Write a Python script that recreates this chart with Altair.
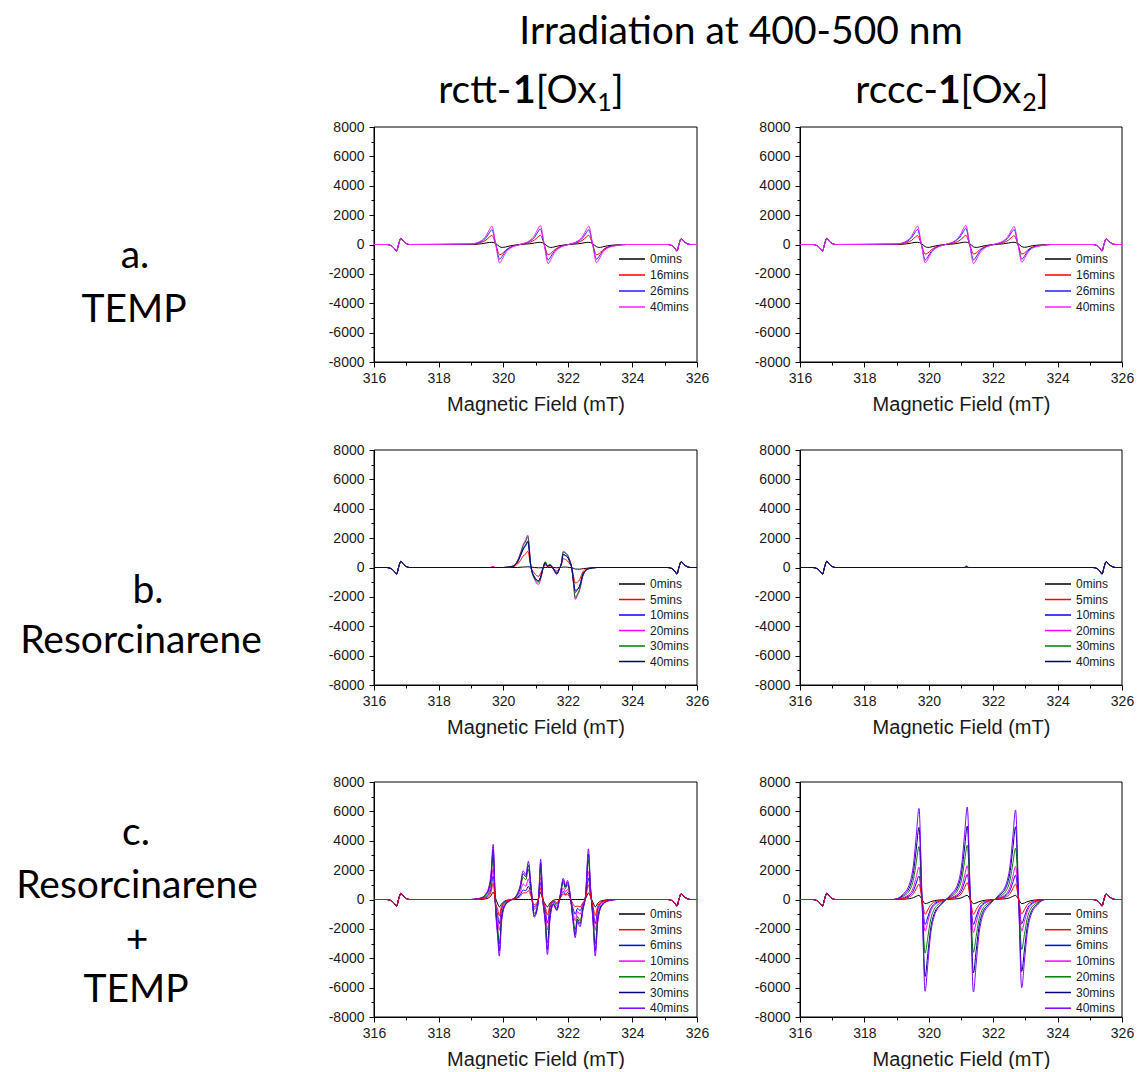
import altair as alt
import pandas as pd

# ---------------------------------------------------------------- data
# Mn2+ reference lines at both ends of every spectrum (same in all runs)
MN_LOW_X = [316.40, 316.55, 316.64, 316.70, 316.76, 316.83, 316.92, 317.10]
MN_LOW_Y = [0, -100, -300, -450, 0, 420, 200, 0]
MN_HIGH_X = [325.10, 325.25, 325.33, 325.38, 325.44, 325.51, 325.60, 325.80]
MN_HIGH_Y = [0, -100, -300, -450, 0, 400, 200, 0]

# a. TEMP
TEMP_TIMES = ["0mins", "16mins", "26mins", "40mins"]
TEMP_COLORS = ["#000000", "#ff0000", "#2020ff", "#ff20ff"]
TEMP_FIELD = [319.00, 319.32, 319.47, 319.57, 319.65, 319.77, 319.89, 319.97, 320.07, 320.22,
              320.52, 320.82, 320.97, 321.07, 321.15, 321.27, 321.39, 321.47, 321.57, 321.72,
              322.02, 322.32, 322.47, 322.57, 322.65, 322.77, 322.89, 322.97, 323.07, 323.22,
              323.55, 323.80]
TEMP_OX1 = {
    "0mins": [0, 50, 100, 140, 150, 60, -150, -200, -170, -90, 0, 50, 100, 140, 150, 60, -150, -200, -170, -90,
              0, 50, 100, 140, 150, 60, -150, -200, -170, -90, -20, 0],
    "16mins": [20, 140, 310, 500, 620, 0, -700, -620, -400, -180, 0, 140, 310, 500, 620, 0, -700, -620, -400, -180,
               0, 140, 310, 500, 620, 0, -700, -620, -400, -180, -40, 0],
    "26mins": [30, 210, 470, 800, 1000, 0, -1000, -800, -470, -210, 0, 220, 490, 840, 1050, 0, -1050, -840, -490, -220,
               0, 210, 470, 800, 1000, 0, -1000, -800, -470, -210, -50, 0],
    "40mins": [40, 260, 590, 1000, 1250, 0, -1250, -1000, -590, -260, 0, 270, 610, 1040, 1300, 0, -1300, -1040, -610, -270,
               0, 260, 590, 1000, 1250, 0, -1250, -1000, -590, -260, -60, 0],
}
TEMP_OX2 = {
    "0mins": [0, 50, 100, 140, 150, 60, -150, -200, -170, -90, 0, 50, 110, 150, 160, 60, -160, -200, -170, -90,
              0, 50, 100, 140, 150, 60, -150, -190, -160, -80, -20, 0],
    "16mins": [20, 130, 290, 480, 600, 0, -650, -580, -380, -170, 0, 130, 300, 490, 620, 0, -650, -580, -380, -170,
               0, 130, 290, 480, 600, 0, -650, -580, -380, -170, -40, 0],
    "26mins": [30, 210, 480, 820, 1020, 0, -1050, -840, -490, -220, 0, 230, 510, 870, 1100, 0, -1050, -840, -490, -220,
               0, 210, 480, 820, 1020, 0, -1000, -800, -470, -210, -50, 0],
    "40mins": [40, 260, 590, 1000, 1250, 0, -1250, -1000, -590, -260, 0, 270, 620, 1050, 1300, 0, -1300, -1050, -620, -270,
               0, 260, 580, 990, 1230, 0, -1200, -960, -570, -250, -60, 0],
}

# b. Resorcinarene
RES_TIMES = ["0mins", "5mins", "10mins", "20mins", "30mins", "40mins"]
RES_COLORS = ["#000000", "#ff0000", "#0000ff", "#ff00ff", "#008000", "#000080"]
RES_FIELD_OX1 = [319.60, 319.68, 319.76, 320.00, 320.30, 320.45, 320.55, 320.62, 320.70, 320.76,
                 320.86, 320.97, 321.09, 321.17, 321.24, 321.30, 321.37, 321.45, 321.55, 321.66,
                 321.74, 321.80, 321.86, 321.93, 321.99, 322.06, 322.12, 322.18, 322.23, 322.30,
                 322.36, 322.48, 322.64, 322.90]
RES_OX1 = {
    "0mins": [0, 0, 0, 0, 0, 0, 20, 30, 40, 50, 30, 0, -20, -20, 0, 0, 0, 0, 0, -20,
              0, 0, 30, 30, 20, 0, -20, -60, -100, -110, -110, -80, -40, 0],
    "5mins": [0, 60, 0, 0, 50, 250, 550, 780, 950, 1100, 30, -400, -600, -350, 0, 200, 50, 100, -50, -240,
              -50, 150, 600, 550, 450, 250, 0, -600, -1050, -1000, -850, -250, -50, 0],
    "10mins": [0, 0, 0, 0, 80, 400, 880, 1250, 1500, 1750, 40, -650, -920, -560, 0, 300, 80, 160, -80, -380,
               -80, 240, 880, 800, 700, 400, 0, -960, -1700, -1500, -1280, -400, -80, 0],
    "20mins": [0, 60, 0, 0, 100, 500, 1100, 1560, 1900, 2200, 50, -800, -1150, -700, 0, 370, 100, 200, -100, -480,
               -100, 300, 1100, 1000, 880, 500, 0, -1200, -2170, -1900, -1600, -500, -100, 0],
    "30mins": [0, 0, 0, 0, 90, 470, 1040, 1480, 1800, 2100, 50, -760, -1000, -650, 0, 400, 120, 200, -80, -450,
               -90, 280, 1050, 960, 850, 480, 0, -1150, -2050, -1800, -1500, -470, -90, 0],
    "40mins": [0, 0, 0, 0, 80, 410, 900, 1280, 1560, 1800, 40, -660, -900, -570, 0, 320, 90, 170, -90, -400,
               -80, 250, 900, 820, 720, 410, 0, -980, -1550, -1500, -1300, -420, -80, 0],
}
RES_FIELD_OX2 = [321.10, 321.17, 321.24]
RES_OX2 = {
    "0mins": [0, 20, 0],
    "5mins": [0, 20, 0],
    "10mins": [0, 30, 0],
    "20mins": [0, 30, 0],
    "30mins": [0, 110, 0],
    "40mins": [0, 40, 0],
}

# c. Resorcinarene + TEMP
MIX_TIMES = ["0mins", "3mins", "6mins", "10mins", "20mins", "30mins", "40mins"]
MIX_COLORS = ["#000000", "#ff0000", "#0000ff", "#ff00ff", "#008000", "#000080", "#8000ff"]
MIX_ORDER = ["0mins", "6mins", "10mins", "20mins", "30mins", "40mins", "3mins"]
MIX_FIELD_OX1 = [319.00, 319.30, 319.45, 319.55, 319.62, 319.69, 319.76, 319.83, 319.88, 319.95,
                 320.05, 320.20, 320.40, 320.52, 320.62, 320.70, 320.78, 320.86, 320.96, 321.05,
                 321.10, 321.16, 321.22, 321.30, 321.37, 321.45, 321.55, 321.66, 321.76, 321.86,
                 321.93, 321.99, 322.08, 322.16, 322.23, 322.30, 322.38, 322.47, 322.55, 322.64,
                 322.70, 322.78, 322.85, 322.93, 323.05, 323.25, 323.50]
MIX_OX1 = {
    "0mins": [0, 10, 40, 120, 250, 500, 100, -300, -500, -300, -100, -20, 0, 0, 0, 0, 0, 0, 0, 0,
              100, 500, 50, -300, -500, -250, -60, 0, 0, 0, 0, 0, 0, 0, 0, 0, 0, 0, 60, 450,
              200, -200, -500, -250, -80, -20, 0],
    "3mins": [0, 30, 100, 230, 480, 1100, -150, -700, -1100, -420, -130, -30, 60, 200, 450, 450, 600, 250, -350, -200,
              80, 800, 60, -460, -1050, -360, -100, -200, 60, 380, 300, 350, 60, -300, -480, -450, -500, -200, 90, 1000,
              300, -460, -1100, -420, -130, -30, 0],
    "6mins": [0, 40, 150, 340, 700, 1600, -200, -1100, -1650, -640, -190, -40, 90, 300, 650, 600, 900, 350, -500, -300,
              120, 1150, 90, -680, -1600, -550, -150, -300, 100, 550, 350, 480, 80, -600, -1000, -600, -750, -300, 120, 1450,
              420, -640, -1650, -640, -190, -40, 0],
    "10mins": [0, 55, 190, 440, 930, 2100, -250, -1400, -2100, -820, -250, -55, 130, 480, 1050, 900, 1400, 550, -660, -390,
               150, 1500, 110, -880, -2050, -700, -190, -410, 140, 800, 520, 700, 110, -820, -1450, -820, -1000, -380, 160, 1900,
               550, -820, -2100, -820, -250, -55, 0],
    "20mins": [0, 80, 270, 620, 1300, 2950, -350, -2000, -3000, -1170, -350, -80, 190, 700, 1500, 1350, 2050, 780, -950, -550,
               220, 2150, 150, -1250, -2950, -1000, -270, -600, 190, 1150, 750, 1000, 150, -1150, -2050, -1150, -1450, -550, 230, 2700,
               800, -1150, -3000, -1150, -350, -80, 0],
    "30mins": [0, 90, 320, 720, 1500, 3400, -400, -2300, -3500, -1350, -400, -90, 220, 800, 1750, 1550, 2350, 900, -1100, -650,
               250, 2500, 180, -1450, -3400, -1200, -320, -700, 220, 1300, 850, 1150, 180, -1350, -2400, -1350, -1650, -650, 270, 3100,
               900, -1350, -3500, -1350, -400, -90, 0],
    "40mins": [0, 100, 350, 800, 1700, 3750, -500, -2600, -3850, -1500, -450, -100, 250, 900, 1950, 1700, 2600, 1000, -1200, -700,
               300, 2750, 200, -1600, -3750, -1300, -350, -750, 250, 1450, 950, 1300, 200, -1500, -2600, -1500, -1850, -700, 300, 3450,
               1000, -1500, -3850, -1500, -450, -100, 0],
}
MIX_FIELD_OX2 = [318.90,
                 319.19, 319.41, 319.53, 319.61, 319.695, 319.79, 319.885, 319.97, 320.05, 320.17, 320.39,
                 320.54,
                 320.69, 320.91, 321.03, 321.11, 321.195, 321.29, 321.385, 321.47, 321.55, 321.67, 321.89,
                 322.04,
                 322.19, 322.41, 322.53, 322.61, 322.695, 322.79, 322.885, 322.97, 323.05, 323.17, 323.39,
                 323.60]
MIX_OX2 = {
    "0mins": [0, 20, 60, 130, 220, 280, 0, -280, -240, -160, -80, -20, 0, 20, 60, 130, 220, 280, 0, -280, -240, -160, -80, -20,
              0, 20, 60, 130, 220, 280, 0, -280, -240, -160, -80, -20, 0],
    "3mins": [0, 60, 190, 420, 740, 1050, 0, -1000, -700, -400, -180, -60, 0, 60, 210, 460, 800, 1150, 0, -1000, -700, -400, -180, -60,
              0, 60, 190, 420, 740, 1050, 0, -980, -690, -390, -180, -60, 0],
    "6mins": [0, 90, 290, 640, 1120, 1600, 0, -1700, -1190, -680, -310, -90, 0, 90, 310, 680, 1190, 1700, 0, -1700, -1190, -680, -310, -90,
              0, 90, 300, 660, 1160, 1650, 0, -1650, -1160, -660, -300, -90, 0],
    "10mins": [0, 120, 400, 880, 1540, 2200, 0, -2150, -1500, -860, -390, -120, 0, 130, 410, 920, 1610, 2300, 0, -2250, -1580, -900, -400, -120,
               0, 120, 400, 900, 1580, 2250, 0, -2150, -1500, -860, -390, -120, 0],
    "20mins": [0, 200, 650, 1440, 2520, 3600, 0, -3650, -2560, -1460, -660, -200, 0, 200, 670, 1480, 2590, 3700, 0, -3600, -2520, -1440, -650, -200,
               0, 190, 630, 1400, 2450, 3500, 0, -3400, -2380, -1360, -610, -190, 0],
    "30mins": [0, 270, 880, 1960, 3430, 4900, 0, -5250, -3680, -2100, -950, -290, 0, 280, 900, 2000, 3500, 5000, 0, -5000, -3500, -2000, -900, -280,
               0, 270, 890, 1980, 3470, 4950, 0, -4900, -3430, -1960, -880, -270, 0],
    "40mins": [0, 340, 1120, 2480, 4340, 6200, 0, -6250, -4380, -2500, -1130, -340, 0, 350, 1130, 2520, 4410, 6300, 0, -6300, -4410, -2520, -1130, -350,
               0, 340, 1100, 2440, 4270, 6100, 0, -6000, -4200, -2400, -1080, -330, 0],
}

# ---------------------------------------------------------------- layout
PANEL_H = 235
COL1_W = 323
COL2_W = 322
LABEL_W = 271
HEAD_H = 39
TEXT_FONT = "Lato"
AXIS_FONT = "Liberation Sans"
TITLE_SIZE = 39
SUB_SIZE = 25

ONE = pd.DataFrame({"k": [0]})

X_ENC = alt.X(
    "field:Q",
    scale=alt.Scale(domain=[316, 326], nice=False, zero=False),
    axis=alt.Axis(
        title="Magnetic Field (mT)",
        values=list(range(316, 327)),
        labelExpr="datum.value % 2 === 0 ? '' + datum.value : ''",
        tickSize={"condition": {"test": "datum.value % 2 !== 0", "value": 3}, "value": 5},
        titlePadding=9,
    ),
)
Y_ENC = alt.Y(
    "signal:Q",
    scale=alt.Scale(domain=[-8000, 8000], nice=False, zero=False),
    axis=alt.Axis(
        title=None,
        values=list(range(-8000, 8001, 1000)),
        labelExpr="datum.value % 2000 === 0 ? '' + datum.value : ''",
        tickSize={"condition": {"test": "datum.value % 2000 !== 0", "value": 3}, "value": 5},
        labelPadding=5,
    ),
)


def spectrum_table(field, curves, times):
    rows = []
    for t in times:
        xs = [316.0] + MN_LOW_X + field + MN_HIGH_X + [326.0]
        ys = [0] + MN_LOW_Y + curves[t] + MN_HIGH_Y + [0]
        for xv, yv in zip(xs, ys, strict=True):
            rows.append({"field": xv, "signal": yv, "time": t})
    return pd.DataFrame(rows)


def panel(field, curves, times, colors, order, width, legend_y, row_gap):
    df = spectrum_table(field, curves, times)
    color = alt.Color(
        "time:N",
        scale=alt.Scale(domain=times, range=colors),
        legend=alt.Legend(
            orient="none", legendX=252, legendY=legend_y, title=None,
            symbolType="M-2.6,0H2.6", symbolSize=100, symbolStrokeWidth=1.5,
            labelFont=AXIS_FONT, labelFontSize=12, labelColor="#1a1a1a",
            labelOffset=12, rowPadding=row_gap, padding=0,
        ),
    )
    frame = alt.Chart(ONE).mark_rect(fill="transparent", stroke="#000000", strokeWidth=1).encode(
        x=alt.value(0), x2=alt.value(width), y=alt.value(0), y2=alt.value(PANEL_H)
    )
    lines = [
        alt.Chart(df)
        .transform_filter(alt.datum.time == t)
        .mark_line(strokeWidth=1, interpolate="monotone", clip=True)
        .encode(x=X_ENC, y=Y_ENC, color=color)
        for t in order
    ]
    return alt.layer(frame, *lines).properties(width=width, height=PANEL_H)


def text_mark(txt, x, y, size=TITLE_SIZE, weight="normal", align="center"):
    return alt.Chart(ONE).mark_text(
        text=txt, font=TEXT_FONT, fontSize=size, fontWeight=weight,
        align=align, baseline="alphabetic", color="#000000",
    ).encode(x=alt.value(x), y=alt.value(y))


# rough advance widths (em) used to chain the pieces of the column titles
GLYPH_W = {"r": 0.37, "c": 0.46, "t": 0.36, "-": 0.37, "[": 0.31, "O": 0.77,
           "x": 0.50, "]": 0.31, "1": 0.58, "2": 0.58}


def text_width(s, size):
    return sum(GLYPH_W[ch] for ch in s) * size


def compound_title(prefix, sub, cx, base):
    parts = [(prefix, TITLE_SIZE, "normal", 0), ("1", TITLE_SIZE, "bold", 0),
             ("[Ox", TITLE_SIZE, "normal", 0), (sub, SUB_SIZE, "normal", 8),
             ("]", TITLE_SIZE, "normal", 0)]
    total = sum(text_width(p[0], p[1]) for p in parts)
    x = cx - total / 2
    marks = []
    for txt, size, weight, drop in parts:
        marks.append(text_mark(txt, x, base + drop, size, weight, "left"))
        x += text_width(txt, size)
    return marks


# header row
corner = alt.Chart(ONE).mark_rect(opacity=0).encode(
    x=alt.value(0), x2=alt.value(LABEL_W), y=alt.value(0), y2=alt.value(HEAD_H)
).properties(width=LABEL_W, height=HEAD_H)
head1 = alt.layer(
    text_mark("Irradiation at 400-500 nm", 367, 44),
    *compound_title("rctt-", "1", 157, 103),
).properties(width=COL1_W, height=HEAD_H)
head2 = alt.layer(*compound_title("rccc-", "2", 152, 103)).properties(width=COL2_W, height=HEAD_H)

# row labels
label_a = alt.layer(text_mark("a.", 135, 141), text_mark("TEMP", 134, 195)).properties(width=LABEL_W, height=PANEL_H)
label_b = alt.layer(text_mark("b.", 148, 153), text_mark("Resorcinarene", 141, 203)).properties(width=LABEL_W, height=244)
label_c = alt.layer(
    text_mark("c.", 136, 63), text_mark("Resorcinarene", 137, 116),
    text_mark("+", 137, 170), text_mark("TEMP", 136, 220),
).properties(width=LABEL_W, height=PANEL_H)

a1 = panel(TEMP_FIELD, TEMP_OX1, TEMP_TIMES, TEMP_COLORS, TEMP_TIMES, COL1_W, 126, 4)
a2 = panel(TEMP_FIELD, TEMP_OX2, TEMP_TIMES, TEMP_COLORS, TEMP_TIMES, COL2_W, 126, 4)
b1 = panel(RES_FIELD_OX1, RES_OX1, RES_TIMES, RES_COLORS, RES_TIMES, COL1_W, 128, 3.5)
b2 = panel(RES_FIELD_OX2, RES_OX2, RES_TIMES, RES_COLORS, RES_TIMES, COL2_W, 128, 3.5)
c1 = panel(MIX_FIELD_OX1, MIX_OX1, MIX_TIMES, MIX_COLORS, MIX_ORDER, COL1_W, 126, 3.7)
c2 = panel(MIX_FIELD_OX2, MIX_OX2, MIX_TIMES, MIX_COLORS, MIX_ORDER, COL2_W, 126, 3.7)

chart = (
    alt.concat(
        corner, head1, head2,
        label_a, a1, a2,
        label_b, b1, b2,
        label_c, c1, c2,
        columns=3, spacing={"row": 88, "column": 103}, bounds="flush", align="each",
    )
    .resolve_scale(color="independent")
    .resolve_legend(color="independent")
    .properties(padding=0)
    .configure_view(strokeWidth=0)
    .configure_axis(
        domainColor="#000000", tickColor="#000000", domainWidth=1, tickWidth=1,
        labelColor="#1a1a1a", titleColor="#1a1a1a",
        labelFont=AXIS_FONT, titleFont=AXIS_FONT,
        labelFontSize=14, titleFontSize=20, titleFontWeight="normal",
        grid=False, labelFlush=False, labelOverlap=False, labelPadding=4,
    )
)

chart.save("out.html", embed_options={"renderer": "svg", "actions": False})
